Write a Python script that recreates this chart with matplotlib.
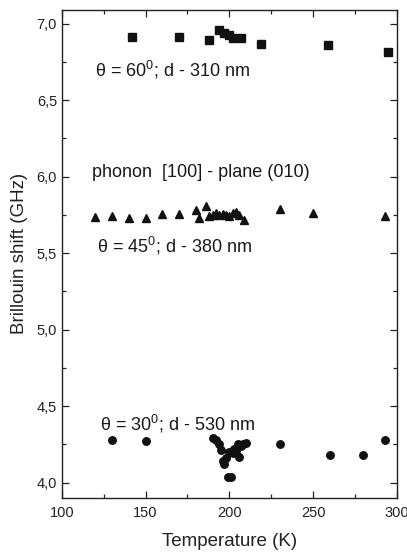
import numpy as np
import matplotlib
matplotlib.use("Agg")
import matplotlib.pyplot as plt
from matplotlib.ticker import MultipleLocator, FuncFormatter

plt.rcParams['font.family'] = ['Liberation Sans', 'DejaVu Sans']
plt.rcParams['mathtext.fontset'] = 'custom'
plt.rcParams['mathtext.rm'] = 'Liberation Sans'

# theta = 60 deg, d = 310 nm
t_60 = [142, 170, 188, 194, 197, 200, 202, 207, 219, 259, 295]
f_60 = [6.916, 6.914, 6.897, 6.962, 6.942, 6.927, 6.905, 6.905, 6.870, 6.860, 6.816]

# theta = 45 deg, d = 380 nm
t_45 = [120, 130, 140, 150, 160, 170, 180, 186, 182, 188, 190, 192, 194, 196,
        198, 200, 202, 204, 206, 209, 230, 250, 293]
f_45 = [5.735, 5.74, 5.73, 5.73, 5.755, 5.755, 5.78, 5.81, 5.73, 5.74, 5.75, 5.76,
        5.75, 5.755, 5.75, 5.74, 5.76, 5.77, 5.75, 5.72, 5.79, 5.765, 5.74]

# theta = 30 deg, d = 530 nm
t_30 = [130, 150, 190, 192, 194, 195, 196, 197, 198, 199, 201, 200, 202, 203,
        204, 205, 206, 207, 208, 210, 230, 260, 280, 293]
f_30 = [4.28, 4.27, 4.29, 4.275, 4.255, 4.21, 4.14, 4.12, 4.16, 4.035, 4.035, 4.20,
        4.19, 4.22, 4.205, 4.25, 4.17, 4.24, 4.25, 4.26, 4.255, 4.18, 4.18, 4.28]


def coma(v, pos):
    return f'{v:.1f}'.replace('.', ',')


fig = plt.figure(figsize=(4.07, 5.55), dpi=100)
ax = fig.add_axes([0.152, 0.103, 0.823, 0.879])

ax.plot(t_60, f_60, 's', color='#111111', ms=5.2, mec='#111111')
ax.plot(t_45, f_45, '^', color='#111111', ms=6, mec='#111111')
ax.plot(t_30, f_30, 'o', color='#111111', ms=5.4, mec='#111111')

txt = dict(fontsize=13, va='center', color='#1a1a1a')
ax.text(120, 6.70, r'θ = 60$^{0}$; d - 310 nm', **txt)
ax.text(118, 6.03, 'phonon  [100] - plane (010)', **txt)
ax.text(121, 5.55, r'θ = 45$^{0}$; d - 380 nm', **txt)
ax.text(123, 4.385, r'θ = 30$^{0}$; d - 530 nm', **txt)

ax.set_xlim(100, 300)
ax.set_ylim(3.9, 7.09)
ax.xaxis.set_major_locator(MultipleLocator(50))
ax.xaxis.set_minor_locator(MultipleLocator(25))
ax.yaxis.set_major_locator(MultipleLocator(0.5))
ax.yaxis.set_minor_locator(MultipleLocator(0.25))
ax.yaxis.set_major_formatter(FuncFormatter(coma))

ax.tick_params(which='both', direction='in', top=True, right=True,
               labelsize=10.5, colors='#222222')
ax.tick_params(which='major', length=5, width=0.9)
ax.tick_params(which='minor', length=3, width=0.9)
ax.tick_params(axis='x', pad=6)
for s in ax.spines.values():
    s.set_linewidth(1.0)
    s.set_color('#222222')

ax.set_xlabel('Temperature (K)', fontsize=13.5, color='#222222', labelpad=9)
ax.set_ylabel('Brillouin shift (GHz)', fontsize=13.5, color='#222222', labelpad=6)

fig.savefig('out.png', dpi=100)
